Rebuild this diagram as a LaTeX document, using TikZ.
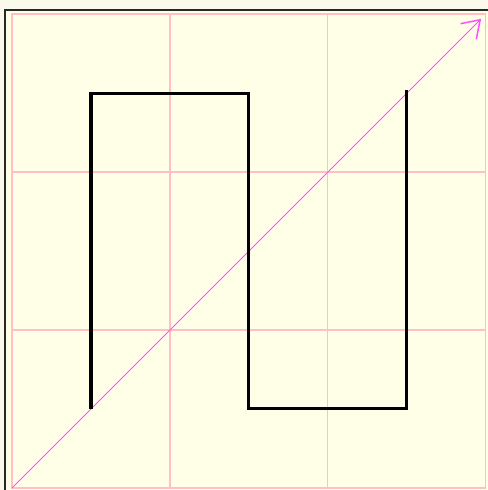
\documentclass[tikz,border=0pt]{standalone}
\usetikzlibrary{arrows.meta}
\definecolor{paper}{RGB}{250,250,236}
\definecolor{cream}{RGB}{255,255,232}
\definecolor{gridpink}{RGB}{255,190,200}
\definecolor{diagmag}{RGB}{255,80,255}
\definecolor{frameedge}{RGB}{40,40,40}
\begin{document}
\begin{tikzpicture}[x=4cm, y=4cm, >={Straight Barb[length=12pt,width=16pt,line width=1.1pt]},
    gridline/.style={draw=gridpink, line width=0.8pt},
    curveline/.style={draw=black, line width=2.2pt, line join=miter},
    diagline/.style={draw=diagmag, line width=0.7pt}]
    % page and frame
    \fill[paper] (-0.076,-0.013) rectangle (3.013,3.089);
    \useasboundingbox (-0.076,-0.013) rectangle (3.013,3.089);
    \fill[cream] (-0.044,-0.013) rectangle (3.013,3.025);
    \draw[frameedge, line width=1.3pt] (-0.044,-0.013) -- (-0.044,3.025) -- (3.013,3.025);
    % grid
    \foreach \k in {1,2} {
        \draw[gridline] (\k,0) -- (\k,3);
        \draw[gridline] (0,\k) -- (3,\k);
    }
    \draw[gridline] (0,0) rectangle (3,3);
    % diagonal
    \coordinate (o) at (0,0);
    \coordinate (tip) at (2.97,2.97);
    \draw[diagline, ->] (o) -- (tip);
    % curve
    \coordinate (p1) at (0.5,0.5);
    \coordinate (p2) at (0.5,2.5);
    \coordinate (p3) at (1.5,2.5);
    \coordinate (p4) at (1.5,0.5);
    \coordinate (p5) at (2.5,0.5);
    \coordinate (p6) at (2.5,2.52);
    \draw[curveline] (p1) -- (p2) -- (p3) -- (p4) -- (p5) -- (p6);
\end{tikzpicture}
\end{document}
